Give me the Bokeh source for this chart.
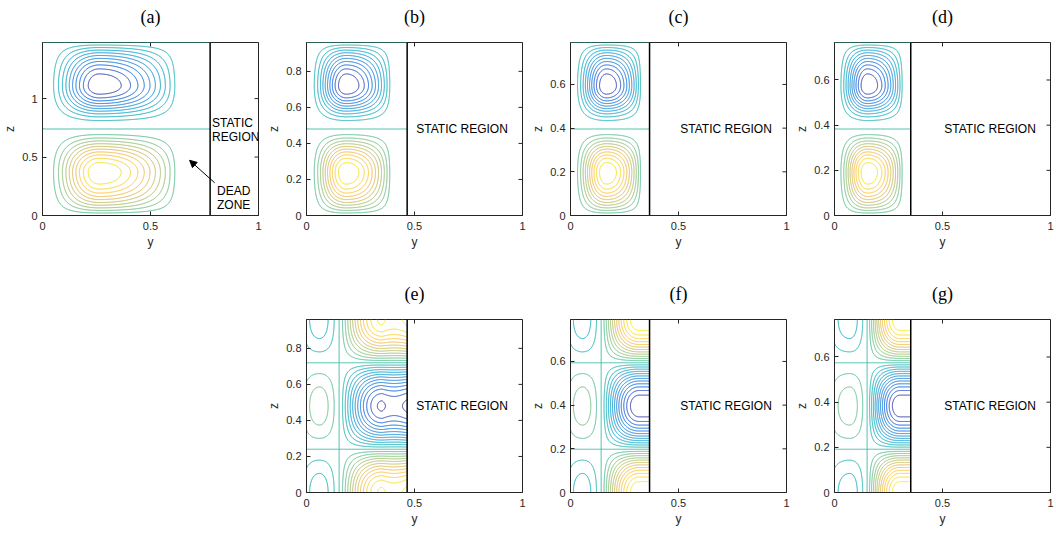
import numpy as np
import contourpy
from bokeh.plotting import figure
from bokeh.models import (ColumnDataSource, Range1d, FixedTicker, LinearAxis,
                          Arrow, NormalHead, Spacer)
from bokeh.layouts import row, column
from bokeh.core.properties import value
from bokeh.embed import file_html
from bokeh.resources import INLINE

# ---------------- data ----------------
panel_labels = ["(a)", "(b)", "(c)", "(d)", "(e)", "(f)", "(g)"]
domain_width = [0.776, 0.466, 0.366, 0.353, 0.466, 0.366, 0.353]   # y of the wall
domain_height = [1.48, 0.96, 0.792, 0.766, 0.96, 0.792, 0.766]     # z extent

y_ticks = [0, 0.5, 1]
y_tick_labels = ["0", "0.5", "1"]
z_ticks = [[0, 0.5, 1], [0, 0.2, 0.4, 0.6, 0.8], [0, 0.2, 0.4, 0.6], [0, 0.2, 0.4, 0.6],
           [0, 0.2, 0.4, 0.6, 0.8], [0, 0.2, 0.4, 0.6], [0, 0.2, 0.4, 0.6]]
z_tick_labels = [["0", "0.5", "1"], ["0", "0.2", "0.4", "0.6", "0.8"], ["0", "0.2", "0.4", "0.6"],
                 ["0", "0.2", "0.4", "0.6"], ["0", "0.2", "0.4", "0.6", "0.8"],
                 ["0", "0.2", "0.4", "0.6"], ["0", "0.2", "0.4", "0.6"]]

# two-cell panels (a)-(d): vortex centre and outer edge of circulation in y
cell_center_y = [0.263, 0.184, 0.167, 0.153]
cell_edge_y = [0.634, 0.398, 0.334, 0.323]
cell_levels = 10          # contour levels per vortex

# wave panels (e)-(g)
wave_zero_y = [0.151, 0.142, 0.151]
wave_left_center_y = [0.06, 0.056, 0.07]
wave_left_amp = [0.2, 0.2, 0.2]
wave_left_edge_ratio = [0.6, 0.6, 0.6]
wave_peak_y = [0.35, 0.318, 0.303]
wave_peak_amp = [0.94, 1.0, 1.0]
wave_wall_amp = [0.95, 1.0, 1.0]
wave_dip = [0.045, 0.0, 0.0]
wave_levels = 12

static_text_y = 0.72
a_static_pos = [0.785, 0.794, 0.672]
a_dead_pos = [0.885, 0.208, 0.094]
a_arrow = [0.797, 0.28, 0.681, 0.472]

# parula colour map anchors (index in the 64-entry table, rgb)
PARULA_POS = [0, 4, 8, 12, 16, 20, 24, 28, 32, 36, 40, 44, 48, 52, 54, 56, 60, 63]
PARULA = [(0.2081, 0.1663, 0.5292), (0.1959, 0.2645, 0.7279), (0.0117, 0.3875, 0.8820),
          (0.0499, 0.4586, 0.8641), (0.0793, 0.5200, 0.8312), (0.0343, 0.5966, 0.8199),
          (0.0228, 0.6535, 0.7768), (0.0843, 0.6928, 0.7062), (0.2178, 0.7250, 0.6193),
          (0.3953, 0.7459, 0.5244), (0.5709, 0.7485, 0.4494), (0.7184, 0.7411, 0.3905),
          (0.8507, 0.7299, 0.3360), (0.9739, 0.7314, 0.2666), (0.9990, 0.7653, 0.2164),
          (0.9880, 0.8066, 0.1794), (0.9589, 0.8949, 0.1132), (0.9763, 0.9831, 0.0538)]


def parula(t):
    t = min(max(t, 0.0), 1.0) * 63
    xp = np.array(PARULA_POS, dtype=float)
    c = [np.interp(t, xp, [a[k] for a in PARULA]) for k in range(3)]
    return "#%02x%02x%02x" % tuple(int(round(255 * v)) for v in c)


def half_profile(x, xc, xe, pa, pb):
    out = np.zeros_like(x)
    m1 = (x >= 0) & (x <= xc)
    out[m1] = np.sin(0.5 * np.pi * x[m1] / xc) ** pa
    m2 = (x > xc) & (x <= xe)
    out[m2] = np.cos(0.5 * np.pi * (x[m2] - xc) / (xe - xc)) ** pb
    return out


def cell_field(i):
    W, H = domain_width[i], domain_height[i]
    yv = np.linspace(0, W, 321)
    zv = np.linspace(0, H, 401)
    Y, Z = np.meshgrid(yv, zv)
    yc, ye = cell_center_y[i], cell_edge_y[i]
    f = half_profile(Y, yc, ye, 2.0, 1.0)
    f = np.where(Y > yc, np.maximum(f, 0.05), f)
    ht = half_profile(Z - H / 2, H / 4, H / 2, 2.0, 1.0)
    hb = half_profile(H / 2 - Z, H / 4, H / 2, 1.5, 1.0)
    psi = np.where(Z > H / 2, -f * ht, f * hb) + 1e-7
    levels = [k / (cell_levels + 1) for k in range(-cell_levels, cell_levels + 1)]
    return yv, zv, psi, levels


def wave_field(j):
    i = j + 4
    W, H = domain_width[i], domain_height[i]
    yv = np.linspace(0, W, 321)
    zv = np.linspace(0, H, 402)
    y0, ym, A, r = wave_zero_y[j], wave_left_center_y[j], wave_left_amp[j], wave_left_edge_ratio[j]
    ys, B1, Bw, D = wave_peak_y[j], wave_peak_amp[j], wave_wall_amp[j], wave_dip[j]
    g = np.zeros_like(yv)
    m = yv <= ym
    g[m] = -A * (1 - (1 - r) * ((ym - yv[m]) / ym) ** 2)
    m = (yv > ym) & (yv <= y0)
    g[m] = -A * np.cos(0.5 * np.pi * (yv[m] - ym) / (y0 - ym))
    m = (yv > y0) & (yv <= ys)
    g[m] = B1 * np.sin(0.5 * np.pi * (yv[m] - y0) / (ys - y0)) ** 1.2
    m = yv > ys
    s = (yv[m] - ys) / (W - ys)
    g[m] = B1 + (Bw - B1) * s - D * np.sin(np.pi * s)
    Z = np.meshgrid(yv, zv)[1]
    G = np.tile(g, (len(zv), 1))
    psi = G * np.cos(2 * np.pi * Z / H)
    levels = [k / (wave_levels + 1) for k in range(-wave_levels, wave_levels + 1)]
    return yv, zv, psi, levels


def add_contours(p, yv, zv, psi, levels):
    gen = contourpy.contour_generator(yv, zv, psi)
    xs, ys, cs = [], [], []
    for lev in levels:
        for ln in gen.lines(lev):
            if len(ln) < 2:
                continue
            xs.append(ln[:, 0].tolist())
            ys.append(ln[:, 1].tolist())
            cs.append(parula((lev + 1) / 2))
    p.multi_line(xs="xs", ys="ys", line_color="c", line_width=1.0,
                 source=ColumnDataSource(dict(xs=xs, ys=ys, c=cs)))


AX = "#262626"
FONT = "Liberation Sans"


def make_fig(i, border_bottom):
    W, H = domain_width[i], domain_height[i]
    p = figure(frame_width=216, frame_height=173, x_range=Range1d(0, 1), y_range=Range1d(0, H),
               output_backend="svg", toolbar_location=None,
               min_border_left=42, min_border_right=6,
               min_border_top=42, min_border_bottom=border_bottom)
    p.xgrid.visible = False
    p.ygrid.visible = False
    p.outline_line_color = AX
    p.outline_line_width = 1
    p.background_fill_color = "white"
    p.border_fill_color = "white"

    bx = p.below[0]
    ly = p.left[0]
    for ax, ticks, labels, name in ((bx, y_ticks, y_tick_labels, "y"),
                                    (ly, z_ticks[i], z_tick_labels[i], "z")):
        ax.ticker = FixedTicker(ticks=ticks)
        ax.major_label_overrides = {t: l for t, l in zip(ticks, labels)}
        ax.major_tick_in = 4
        ax.major_tick_out = 0
        ax.minor_tick_line_color = None
        ax.axis_line_color = AX
        ax.major_tick_line_color = AX
        ax.major_label_text_font = FONT
        ax.major_label_text_font_size = "11px"
        ax.major_label_text_color = AX
        ax.axis_label = name
        ax.axis_label_text_font = FONT
        ax.axis_label_text_font_size = "12px"
        ax.axis_label_text_font_style = "normal"
        ax.axis_label_text_color = AX
    bx.major_label_standoff = 6
    bx.axis_label_standoff = 2
    ly.major_label_standoff = 5
    ly.axis_label_standoff = 2

    # panel letter, written as the label of an empty axis above the box
    head = LinearAxis(ticker=FixedTicker(ticks=[]), axis_label=panel_labels[i],
                      axis_label_text_font="Liberation Serif", axis_label_text_font_size="18px",
                      axis_label_text_font_style="normal", axis_label_text_color="black",
                      axis_label_standoff=16, major_label_standoff=0,
                      major_tick_in=0, major_tick_out=0, axis_line_color=None,
                      minor_tick_line_color=None, major_tick_line_color=None)
    p.add_layout(head, "above")

    # inward ticks on the top and right edges of the box
    p.ray(x=y_ticks, y=[H] * len(y_ticks), length=4, length_units="screen",
          angle=-np.pi / 2, line_color=AX, line_width=1)
    p.ray(x=[1] * len(z_ticks[i]), y=z_ticks[i], length=4, length_units="screen",
          angle=np.pi, line_color=AX, line_width=1)

    if i < 4:
        yv, zv, psi, levels = cell_field(i)
    else:
        yv, zv, psi, levels = wave_field(i - 4)
    add_contours(p, yv, zv, psi, levels)

    p.segment(x0=[W], y0=[0], x1=[W], y1=[H], line_color="black", line_width=1.5)

    if i == 0:
        p.text(x=[a_static_pos[0]] * 2, y=a_static_pos[1:], text=["STATIC", "REGION"],
               text_align="left", text_baseline="middle", text_font=value(FONT),
               text_font_size="12px", text_color="black")
        p.text(x=[a_dead_pos[0]] * 2, y=a_dead_pos[1:], text=["DEAD", "ZONE"],
               text_align="center", text_baseline="middle", text_font=value(FONT),
               text_font_size="12px", text_color="black")
        p.add_layout(Arrow(end=NormalHead(size=7, fill_color="black", line_color="black"),
                           x_start=a_arrow[0], y_start=a_arrow[1],
                           x_end=a_arrow[2], y_end=a_arrow[3],
                           line_color="black", line_width=1))
    else:
        p.text(x=[static_text_y], y=[H / 2], text=["STATIC REGION"],
               text_align="center", text_baseline="middle", text_font=value(FONT),
               text_font_size="12px", text_color="black")
    return p


top_row = [make_fig(i, 62) for i in range(4)]
bottom_row = [make_fig(i, 36) for i in range(4, 7)]
layout = column(row(*top_row), row(Spacer(width=264, height=10), *bottom_row))

open("out.html", "w").write(file_html(layout, INLINE))
